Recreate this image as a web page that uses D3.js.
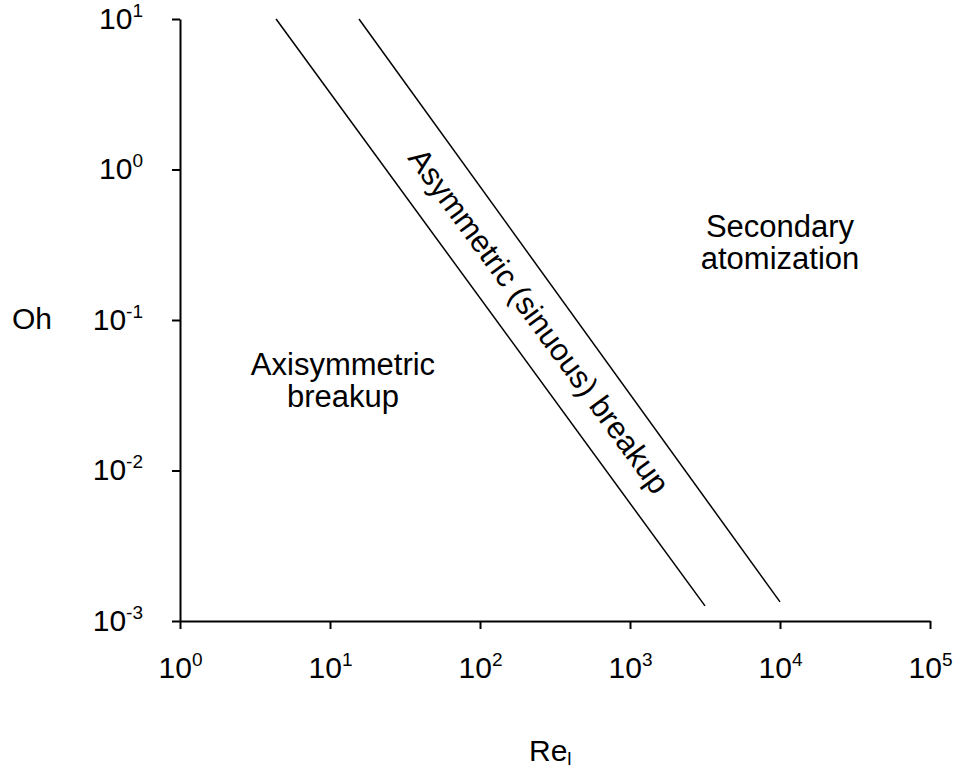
<!DOCTYPE html>
<html>
<head>
<meta charset="utf-8">
<script src="https://cdn.jsdelivr.net/npm/d3@7"></script>
<style>
  body { margin: 0; background: #fff; }
  svg { font-family: "Liberation Sans", Arial, sans-serif; }
</style>
</head>
<body>
<div id="chart"></div>
<script>
// Regime map: Oh vs Re_l, two boundary lines
const xTickExps = [0, 1, 2, 3, 4, 5];
const yTickExps = [1, 0, -1, -2, -3];

// boundary lines [Re, Oh]
const lowerBoundary = [[4.37, 10], [3162, 0.00126]];
const upperBoundary = [[15.6, 10], [10000, 0.00134]];

const regionLabels = [
  { lines: ['Axisymmetric', 'breakup'], re: 12.2, oh: 0.043 },
  { lines: ['Secondary', 'atomization'], re: 10000, oh: 0.356 },
];
const bandLabel = 'Asymmetric (sinuous) breakup';

const W = 955, H = 771;
const margin = { left: 180, top: 19, right: 25, bottom: 150 };

const svg = d3.select('#chart').append('svg')
  .attr('width', W)
  .attr('height', H);

const x = d3.scaleLog().domain([1, 1e5]).range([margin.left, W - margin.right]);
const y = d3.scaleLog().domain([1e-3, 10]).range([H - margin.bottom, margin.top]);

function supLabel(sel, exp, dyUp) {
  sel.text(null);
  sel.append('tspan').text('10');
  sel.append('tspan')
    .attr('font-size', '19px')
    .attr('dy', -dyUp)
    .text(exp);
}

// x axis
const xAxis = svg.append('g')
  .attr('transform', `translate(0,${y(1e-3)})`)
  .call(d3.axisBottom(x)
    .tickValues(xTickExps.map(e => Math.pow(10, e)))
    .tickSize(8)
    .tickSizeOuter(0)
    .tickFormat(''));
xAxis.select('.domain').attr('stroke', '#000').attr('stroke-width', 2);
xAxis.selectAll('.tick line').attr('stroke', '#000').attr('stroke-width', 2);
xAxis.selectAll('.tick').each(function (d, i) {
  d3.select(this).append('text')
    .attr('fill', '#000')
    .attr('font-size', '30px')
    .attr('text-anchor', 'middle')
    .attr('y', 57)
    .call(supLabel, xTickExps[i], 12);
});

// y axis
const yAxis = svg.append('g')
  .attr('transform', `translate(${x(1)},0)`)
  .call(d3.axisLeft(y)
    .tickValues(yTickExps.map(e => Math.pow(10, e)))
    .tickSize(8)
    .tickSizeOuter(0)
    .tickFormat(''));
yAxis.select('.domain').attr('stroke', '#000').attr('stroke-width', 2);
yAxis.selectAll('.tick line').attr('stroke', '#000').attr('stroke-width', 2);
yAxis.selectAll('.tick').each(function (d, i) {
  d3.select(this).append('text')
    .attr('fill', '#000')
    .attr('font-size', '30px')
    .attr('text-anchor', 'end')
    .attr('x', -37)
    .attr('y', 9)
    .call(supLabel, yTickExps[i] < 0 ? '-' + Math.abs(yTickExps[i]) : yTickExps[i], 12);
});

// axis titles
svg.append('text')
  .attr('x', 32)
  .attr('y', y(0.1) + 9)
  .attr('text-anchor', 'middle')
  .attr('font-size', '30px')
  .text('Oh');

const xt = svg.append('text')
  .attr('x', 529)
  .attr('y', 761)
  .attr('font-size', '30px');
xt.append('tspan').text('Re');
xt.append('tspan').attr('font-size', '19px').attr('dy', 4).text('l');

// boundary lines
const line = d3.line().x(d => x(d[0])).y(d => y(d[1]));
[lowerBoundary, upperBoundary].forEach(b => {
  svg.append('path')
    .attr('d', line(b))
    .attr('fill', 'none')
    .attr('stroke', '#000')
    .attr('stroke-width', 1.5);
});

// region labels
regionLabels.forEach(r => {
  const t = svg.append('text')
    .attr('text-anchor', 'middle')
    .attr('font-size', '31px')
    .attr('x', x(r.re))
    .attr('y', y(r.oh));
  r.lines.forEach((l, i) => {
    t.append('tspan')
      .attr('x', x(r.re))
      .attr('dy', i === 0 ? 0 : 32)
      .text(l);
  });
});

// label inside the band, rotated along the lines
const p0 = [x(lowerBoundary[0][0]), y(lowerBoundary[0][1])];
const p1 = [x(lowerBoundary[1][0]), y(lowerBoundary[1][1])];
const angle = Math.atan2(p1[1] - p0[1], p1[0] - p0[0]) * 180 / Math.PI;
const cx = 539, cy = 321;
svg.append('text')
  .attr('transform', `translate(${cx},${cy}) rotate(${angle})`)
  .attr('text-anchor', 'middle')
  .attr('dominant-baseline', 'central')
  .attr('font-size', '31px')
  .text(bandLabel);
</script>
</body>
</html>
